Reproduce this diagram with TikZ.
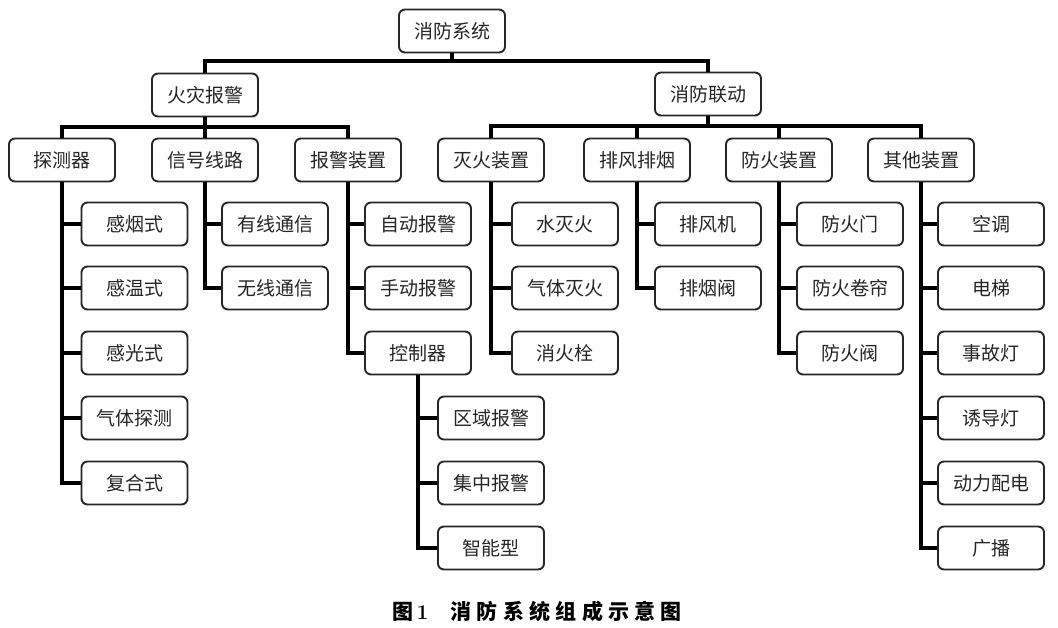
\documentclass[tikz,border=0pt]{standalone}
\usepackage{fontspec}
\newfontfamily\cjk{Noto Sans CJK SC}
\newcommand{\capsp}{\kern5.3pt}
\begin{document}
\begin{tikzpicture}[x=1pt,y=-1pt,
  box/.style={draw=black!85,line width=1.9pt,rounded corners=6pt,fill=white,
    minimum width=106pt,minimum height=43pt,inner sep=0pt,
    font=\cjk\fontsize{19}{19}\selectfont,text=black!85},
  bus/.style={draw=black,line width=4pt,line join=miter}]
\useasboundingbox (0,0) rectangle (1058,628);
% level 0 / 1
\node[box] (root) at (452,31) {消防系统};
\node[box] (fire) at (205,95) {火灾报警};
\node[box] (link) at (708,94) {消防联动};
% level 2
\node[box] (det) at (62,160) {探测器};
\node[box] (sig) at (205,160) {信号线路};
\node[box] (alm) at (348,160) {报警装置};
\node[box] (ext) at (491,160) {灭火装置};
\node[box] (smk) at (637,160) {排风排烟};
\node[box] (fp)  at (779,160) {防火装置};
\node[box] (oth) at (921,160) {其他装置};
% level 3
\node[box] (d1) at (134.5,224) {感烟式};
\node[box] (d2) at (134.5,288) {感温式};
\node[box] (d3) at (134.5,353) {感光式};
\node[box] (d4) at (134.5,418) {气体探测};
\node[box] (d5) at (134.5,483) {复合式};
\node[box] (s1) at (275,224) {有线通信};
\node[box] (s2) at (275,288) {无线通信};
\node[box] (a1) at (418,224) {自动报警};
\node[box] (a2) at (418,288) {手动报警};
\node[box] (a3) at (418,353) {控制器};
\node[box] (c1) at (491,418) {区域报警};
\node[box] (c2) at (491,483) {集中报警};
\node[box] (c3) at (491,548) {智能型};
\node[box] (e1) at (565,224) {水灭火};
\node[box] (e2) at (565,288) {气体灭火};
\node[box] (e3) at (565,353) {消火栓};
\node[box] (m1) at (708,224) {排风机};
\node[box] (m2) at (708,288) {排烟阀};
\node[box] (f1) at (850,224) {防火门};
\node[box] (f2) at (850,288) {防火卷帘};
\node[box] (f3) at (850,353) {防火阀};
\node[box] (o1) at (991,224) {空调};
\node[box] (o2) at (991,288) {电梯};
\node[box] (o3) at (991,353) {事故灯};
\node[box] (o4) at (991,418) {诱导灯};
\node[box] (o5) at (991,483) {动力配电};
\node[box] (o6) at (991,548) {广播};
% connectors
\draw[bus] (root.south) -- ++(0,8) -| (fire.north);
\draw[bus] (root.south) -- ++(0,8) -| (link.north);
\foreach \c in {det,sig,alm} \draw[bus] (fire.south) -- ++(0,10) -| (\c.north);
\foreach \c in {ext,smk,fp,oth} \draw[bus] (link.south) -- ++(0,10) -| (\c.north);
\foreach \c in {d1,d2,d3,d4,d5} \draw[bus] (det.south) |- (\c.west);
\foreach \c in {s1,s2} \draw[bus] (sig.south) |- (\c.west);
\foreach \c in {a1,a2,a3} \draw[bus] (alm.south) |- (\c.west);
\foreach \c in {c1,c2,c3} \draw[bus] (a3.south) |- (\c.west);
\foreach \c in {e1,e2,e3} \draw[bus] (ext.south) |- (\c.west);
\foreach \c in {m1,m2} \draw[bus] (smk.south) |- (\c.west);
\foreach \c in {f1,f2,f3} \draw[bus] (fp.south) |- (\c.west);
\foreach \c in {o1,o2,o3,o4,o5,o6} \draw[bus] (oth.south) |- (\c.west);
% caption
\node[font=\cjk\bfseries\fontsize{21}{21}\selectfont,inner sep=0pt,anchor=west] (cap) at (392,611)
  {图\,{\rmfamily\bfseries 1}\hspace{22pt}消\capsp 防\capsp 系\capsp 统\capsp 组\capsp 成\capsp 示\capsp 意\capsp 图};
\end{tikzpicture}
\end{document}
